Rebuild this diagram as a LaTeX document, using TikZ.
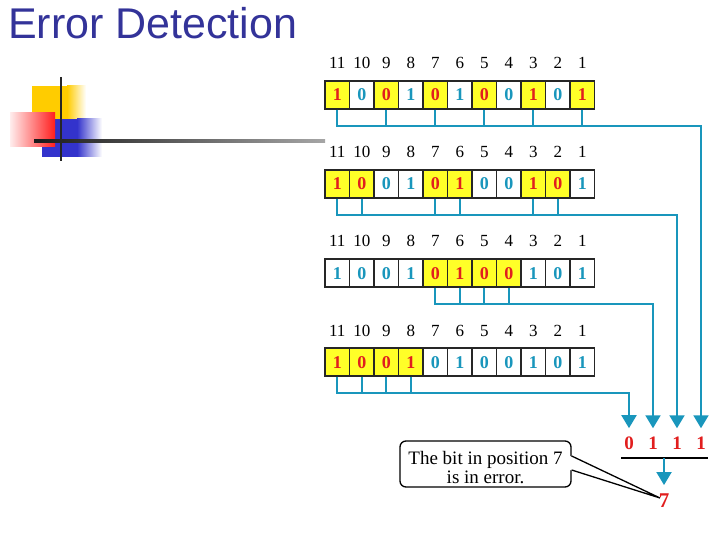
\documentclass[tikz,border=0pt]{standalone}
\usepackage{fontspec}
\setmainfont{Liberation Serif}
\newfontfamily\titlefont{Liberation Sans}
\usetikzlibrary{arrows.meta}
\definecolor{hamblue}{RGB}{51,51,153}
\definecolor{hamteal}{RGB}{25,150,188}
\definecolor{hamred}{RGB}{225,30,30}
\definecolor{hamyellow}{RGB}{255,255,40}
\definecolor{logoyellow}{RGB}{255,204,0}
\definecolor{logoblue}{RGB}{51,51,204}
\definecolor{logored}{RGB}{255,30,30}
\tikzset{
  cellbox/.style={draw=black!85, line width=1.2pt, minimum width=24.5pt, minimum height=28pt, inner sep=0pt, text height=12pt, text depth=0pt, font=\fontsize{18}{18}\selectfont\bfseries},
  posnum/.style={font=\fontsize{17}{17}\selectfont, inner sep=0pt, anchor=base},
  resnum/.style={font=\fontsize{19}{19}\selectfont\bfseries, text=hamred, inner sep=0pt, anchor=base},
  link/.style={draw=hamteal, line width=2pt},
  linkarrow/.style={-{Triangle[width=15pt,length=13pt]}, shorten >=8pt}
}
\begin{document}
\begin{tikzpicture}[x=1pt,y=-1pt]
	\useasboundingbox (0,0) rectangle (720,540);
	\fill[logoyellow] (32,86) rectangle (67,119);
	\shade[left color=logoyellow, right color=white] (67,86) rectangle (86,119);
	\fill[logoblue] (42,119) rectangle (77,157);
	\shade[left color=logoblue, right color=white] (77,119) rectangle (102,157);
	\shade[left color=logored!8, right color=logored] (10,113) rectangle (55,147);
	\draw[line width=2.5pt, black!85] (61,77) -- (61,161);
	\shade[left color=black!90, right color=black!35] (34,139.5) rectangle (325,142.5);
	
	\node[anchor=base west, inner sep=0pt, text=hamblue, font=\titlefont\fontsize{43}{43}\selectfont] (title) at (8,39) {Error Detection};
	
	\foreach \r in {1,...,4}{
		\foreach \b [count=\k] in {1,0,0,1,0,1,0,0,1,0,1}{
			\pgfmathtruncatemacro\p{12-\k}
			\pgfmathtruncatemacro\hit{mod(floor(\p/2^(\r-1)),2)}
			\ifnum\hit=1 \def\fc{hamyellow}\def\tc{hamred}\else\def\fc{white}\def\tc{hamteal}\fi
			\node[cellbox, fill=\fc, text=\tc] (c\r-\p) at ({325+24.5*(\k-0.5)},{95+89*(\r-1)}) {\b};
			\node[posnum] (h\r-\p) at ({325+24.5*(\k-0.5)},{69+89*(\r-1)}) {\p};
			\ifnum\hit=1 \draw[link] (c\r-\p.south) -- ++(0,16); \fi
		}
	}
	
	\foreach \r/\first/\colx/\res in {1/11/701/1,2/11/677/1,3/7/653/1,4/11/629/0}{
		\node[resnum] (s\r) at (\colx,449) {\res};
		\coordinate (b\r) at ([yshift=-16pt]c\r-\first.south);
		\draw[link, linkarrow] (c\r-\first.south) -- (b\r) -| (s\r.north);
	}
	
	\draw[line width=1.2pt] (621,458) -- (708,458);
	\coordinate (bar) at (664,458);
	
	\node[draw, line width=1.3pt, rounded corners=6pt, minimum width=171pt, minimum height=46pt, inner sep=0pt] (note) at (485.5,464) {};
	\node[align=center, inner sep=0pt, font=\fontsize{19}{19}\selectfont] (notetext) at ([yshift=-3.5pt]note.center) {The bit in position 7\\is in error.};
	\coordinate (tailA) at ([yshift=8pt]note.east);
	\coordinate (tailB) at ([yshift=-6pt]note.east);
	\coordinate (tip) at (660,498);
	\fill[white] ([xshift=-1.5pt]tailA) -- (tip) -- ([xshift=-1.5pt]tailB) -- cycle;
	\draw[line width=1.3pt] (tailA) -- (tip) -- (tailB);
	
	\node[resnum, font=\fontsize{21}{21}\selectfont\bfseries] (syn) at (664,507) {7};
	\draw[link, linkarrow] (bar) -- (syn.north);
\end{tikzpicture}
\end{document}
